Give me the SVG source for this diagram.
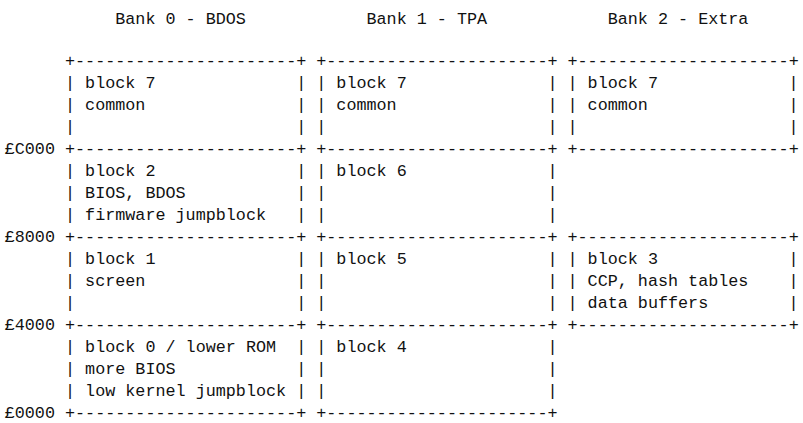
<svg xmlns="http://www.w3.org/2000/svg" width="803" height="423" viewBox="0 0 803 423">
<style>
text { font-family: "Liberation Mono", "DejaVu Sans Mono", monospace; font-size: 16.75px; fill: #111; }
</style>
<rect width="803" height="423" fill="#fff"/>
<g id="bank-headers">
<text x="115.25" y="24">Bank 0 - BDOS</text>
<text x="366.5" y="24">Bank 1 - TPA</text>
<text x="607.7" y="24">Bank 2 - Extra</text>
</g>
<g id="address-labels">
<text x="4.7" y="154">£C000</text>
<text x="4.7" y="242">£8000</text>
<text x="4.7" y="330">£4000</text>
<text x="4.7" y="418">£0000</text>
</g>
<g id="connectors">
<text x="65" y="66">+----------------------+</text>
<text x="316.25" y="66">+----------------------+</text>
<text x="567.5" y="66">+---------------------+</text>
<text x="65" y="154">+----------------------+</text>
<text x="316.25" y="154">+----------------------+</text>
<text x="567.5" y="154">+---------------------+</text>
<text x="65" y="242">+----------------------+</text>
<text x="316.25" y="242">+----------------------+</text>
<text x="567.5" y="242">+---------------------+</text>
<text x="65" y="330">+----------------------+</text>
<text x="316.25" y="330">+----------------------+</text>
<text x="567.5" y="330">+---------------------+</text>
<text x="65" y="418">+----------------------+</text>
<text x="316.25" y="418">+----------------------+</text>
</g>
<g id="bank0-block7">
<text x="65" y="88">|</text><text x="85.1" y="88">block 7</text><text x="296.15" y="88">|</text>
<text x="65" y="110">|</text><text x="85.1" y="110">common</text><text x="296.15" y="110">|</text>
<text x="65" y="132">|</text><text x="296.15" y="132">|</text>
</g>
<g id="bank0-block2">
<text x="65" y="176">|</text><text x="85.1" y="176">block 2</text><text x="296.15" y="176">|</text>
<text x="65" y="198">|</text><text x="85.1" y="198">BIOS, BDOS</text><text x="296.15" y="198">|</text>
<text x="65" y="220">|</text><text x="85.1" y="220">firmware jumpblock</text><text x="296.15" y="220">|</text>
</g>
<g id="bank0-block1">
<text x="65" y="264">|</text><text x="85.1" y="264">block 1</text><text x="296.15" y="264">|</text>
<text x="65" y="286">|</text><text x="85.1" y="286">screen</text><text x="296.15" y="286">|</text>
<text x="65" y="308">|</text><text x="296.15" y="308">|</text>
</g>
<g id="bank0-block0">
<text x="65" y="352">|</text><text x="85.1" y="352">block 0 / lower ROM</text><text x="296.15" y="352">|</text>
<text x="65" y="374">|</text><text x="85.1" y="374">more BIOS</text><text x="296.15" y="374">|</text>
<text x="65" y="396">|</text><text x="85.1" y="396">low kernel jumpblock</text><text x="296.15" y="396">|</text>
</g>
<g id="bank1-block7">
<text x="316.25" y="88">|</text><text x="336.35" y="88">block 7</text><text x="547.4" y="88">|</text>
<text x="316.25" y="110">|</text><text x="336.35" y="110">common</text><text x="547.4" y="110">|</text>
<text x="316.25" y="132">|</text><text x="547.4" y="132">|</text>
</g>
<g id="bank1-block6">
<text x="316.25" y="176">|</text><text x="336.35" y="176">block 6</text><text x="547.4" y="176">|</text>
<text x="316.25" y="198">|</text><text x="547.4" y="198">|</text>
<text x="316.25" y="220">|</text><text x="547.4" y="220">|</text>
</g>
<g id="bank1-block5">
<text x="316.25" y="264">|</text><text x="336.35" y="264">block 5</text><text x="547.4" y="264">|</text>
<text x="316.25" y="286">|</text><text x="547.4" y="286">|</text>
<text x="316.25" y="308">|</text><text x="547.4" y="308">|</text>
</g>
<g id="bank1-block4">
<text x="316.25" y="352">|</text><text x="336.35" y="352">block 4</text><text x="547.4" y="352">|</text>
<text x="316.25" y="374">|</text><text x="547.4" y="374">|</text>
<text x="316.25" y="396">|</text><text x="547.4" y="396">|</text>
</g>
<g id="bank2-block7">
<text x="567.5" y="88">|</text><text x="587.6" y="88">block 7</text><text x="788.6" y="88">|</text>
<text x="567.5" y="110">|</text><text x="587.6" y="110">common</text><text x="788.6" y="110">|</text>
<text x="567.5" y="132">|</text><text x="788.6" y="132">|</text>
</g>
<g id="bank2-block3">
<text x="567.5" y="264">|</text><text x="587.6" y="264">block 3</text><text x="788.6" y="264">|</text>
<text x="567.5" y="286">|</text><text x="587.6" y="286">CCP, hash tables</text><text x="788.6" y="286">|</text>
<text x="567.5" y="308">|</text><text x="587.6" y="308">data buffers</text><text x="788.6" y="308">|</text>
</g>
</svg>
